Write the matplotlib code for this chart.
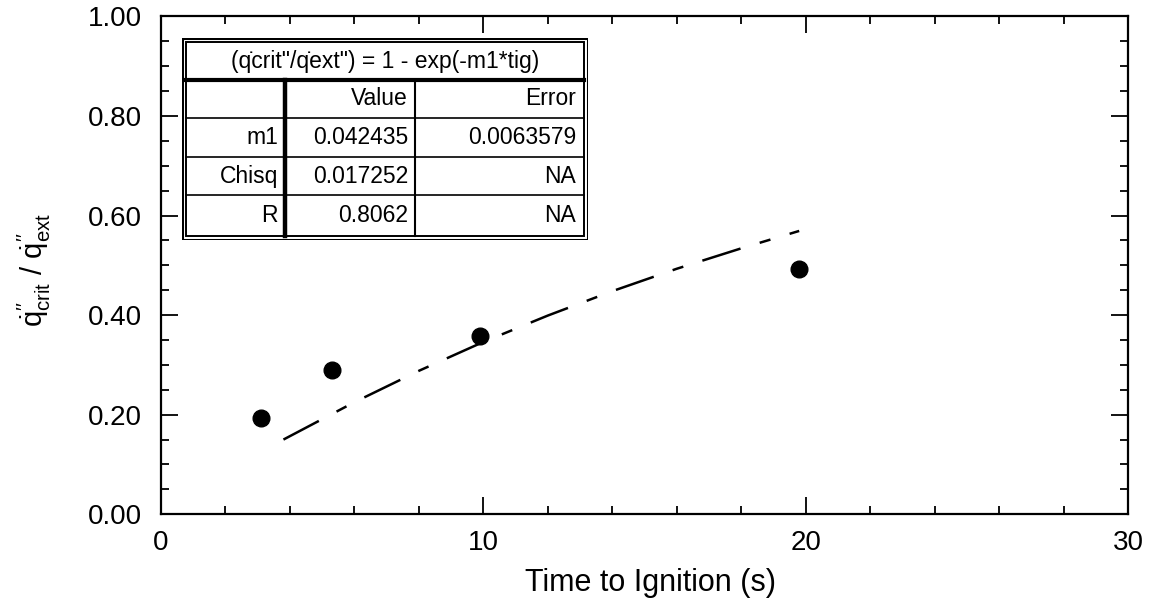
import matplotlib
matplotlib.use("Agg")
import matplotlib.pyplot as plt
from matplotlib.ticker import MultipleLocator, FormatStrFormatter

plt.rcParams["font.family"] = ["Liberation Sans", "DejaVu Sans"]
plt.rcParams["mathtext.fontset"] = "custom"
plt.rcParams["mathtext.rm"] = "Liberation Sans"
plt.rcParams["mathtext.it"] = "Liberation Sans"

# measured points
tig = [3.1, 5.3, 9.9, 19.8]
q_ratio = [0.193, 0.289, 0.358, 0.492]

# fitted curve
fit_t = [3.8, 6.0, 8.0, 10.0, 12.0, 14.0, 16.0, 18.0, 19.8]
fit_q = [0.15, 0.225, 0.288, 0.346, 0.399, 0.448, 0.493, 0.534, 0.569]

# fit table
table_title = "(q\u0307crit\"/q\u0307ext\") = 1 - exp(-m1*tig)"
col_heads = ["", "Value", "Error"]
row_names = ["m1", "Chisq", "R"]
row_values = ["0.042435", "0.017252", "0.8062"]
row_errors = ["0.0063579", "NA", "NA"]

fig = plt.figure(figsize=(11.53, 6.05), dpi=100)
ax = fig.add_axes([0.1396, 0.150, 0.8387, 0.823])

ax.plot(fit_t, fit_q, color="black", lw=1.8, dashes=(16, 8, 4.5, 8))
ax.plot(tig, q_ratio, "o", color="black", ms=12)

ax.set_xlim(0, 30)
ax.set_ylim(0, 1)
ax.xaxis.set_major_locator(MultipleLocator(10))
ax.xaxis.set_minor_locator(MultipleLocator(2))
ax.yaxis.set_major_locator(MultipleLocator(0.2))
ax.yaxis.set_minor_locator(MultipleLocator(0.05))
ax.yaxis.set_major_formatter(FormatStrFormatter("%.2f"))
ax.tick_params(which="both", direction="in", top=True, right=True, width=1.3)
ax.tick_params(which="major", length=12, labelsize=20)
ax.tick_params(which="minor", length=6)
ax.tick_params(axis="x", which="major", pad=11)
ax.tick_params(axis="y", which="major", pad=14)
for s in ax.spines.values():
    s.set_linewidth(1.6)

ax.set_xlabel("Time to Ignition (s)", fontsize=22)
ax.xaxis.set_label_coords(0.506, -0.108)
ax.set_ylabel(r"$\dot{q}^{\prime\prime}_{\mathregular{crit}}\ /\ \dot{q}^{\prime\prime}_{\mathregular{ext}}$",
              fontsize=21)
ax.yaxis.set_label_coords(-0.112, 0.49)

# table drawn in its own axes, local pixel units
tax = fig.add_axes([0.1579, 0.6033, 0.3521, 0.3339])
tax.set_xlim(0, 406)
tax.set_ylim(202, 0)
tax.axis("off")
W, H = 406, 202
tax.add_patch(plt.Rectangle((0, 0), W, H, fill=True, fc="white", ec="black", lw=2.2))
tax.add_patch(plt.Rectangle((4, 4), W - 8, H - 8, fill=False, ec="black", lw=1.4))
tax.plot([4, W - 4], [42, 42], color="black", lw=3)
row_lines = [80, 119, 157]
for y in row_lines:
    tax.plot([4, W - 4], [y, y], color="black", lw=1.2)
tax.plot([103, 103], [42, H - 4], color="black", lw=3.2)
tax.plot([233, 233], [42, H - 4], color="black", lw=1.5)

fs = 16.5
tax.text(W / 2, 24, table_title, ha="center", va="center", fontsize=fs)
col_right = [96, 226, 394]
row_mid = [61, 99.5, 138, 177]
for j, h in enumerate(col_heads):
    tax.text(col_right[j], row_mid[0], h, ha="right", va="center", fontsize=fs)
for i in range(len(row_names)):
    cells = [row_names[i], row_values[i], row_errors[i]]
    for j, c in enumerate(cells):
        tax.text(col_right[j], row_mid[i + 1], c, ha="right", va="center", fontsize=fs)

fig.savefig("out.png", dpi=100)
